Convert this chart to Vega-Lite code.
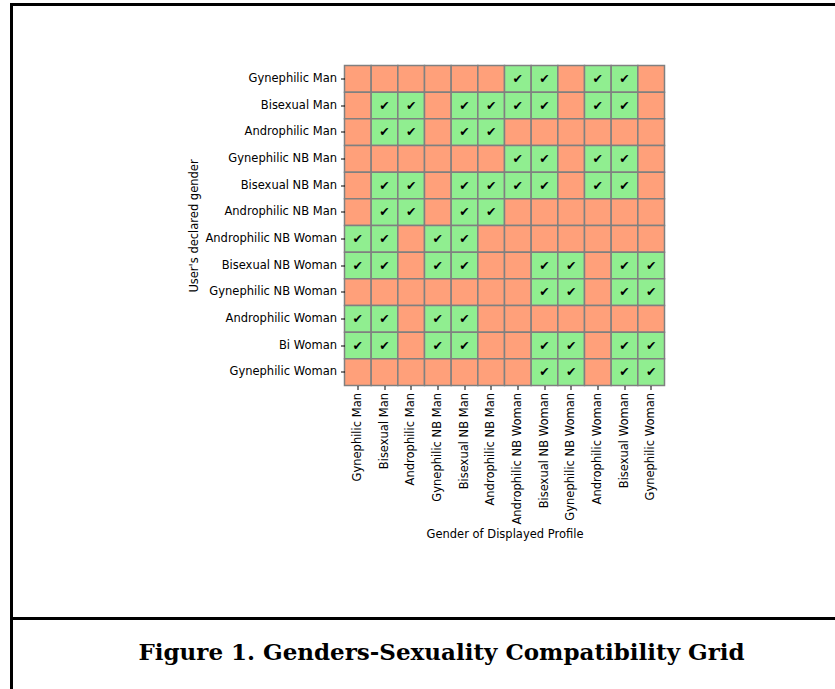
{
  "$schema": "https://vega.github.io/schema/vega-lite/v6.json",
  "padding": {"left": 9.5, "top": 2.5, "right": 0, "bottom": 0},
  "background": "white",
  "spacing": 0,
  "bounds": "flush",
  "config": {"font": "DejaVu Sans", "concat": {"spacing": 0}},
  "datasets": {
    "grid": [
      {"r":"Gynephilic Man","c":"Gynephilic Man","v":0},{"r":"Gynephilic Man","c":"Bisexual Man","v":0},{"r":"Gynephilic Man","c":"Androphilic Man","v":0},{"r":"Gynephilic Man","c":"Gynephilic NB Man","v":0},{"r":"Gynephilic Man","c":"Bisexual NB Man","v":0},{"r":"Gynephilic Man","c":"Androphilic NB Man","v":0},{"r":"Gynephilic Man","c":"Androphilic NB Woman","v":1},{"r":"Gynephilic Man","c":"Bisexual NB Woman","v":1},{"r":"Gynephilic Man","c":"Gynephilic NB Woman","v":0},{"r":"Gynephilic Man","c":"Androphilic Woman","v":1},{"r":"Gynephilic Man","c":"Bisexual Woman","v":1},{"r":"Gynephilic Man","c":"Gynephilic Woman","v":0},
      {"r":"Bisexual Man","c":"Gynephilic Man","v":0},{"r":"Bisexual Man","c":"Bisexual Man","v":1},{"r":"Bisexual Man","c":"Androphilic Man","v":1},{"r":"Bisexual Man","c":"Gynephilic NB Man","v":0},{"r":"Bisexual Man","c":"Bisexual NB Man","v":1},{"r":"Bisexual Man","c":"Androphilic NB Man","v":1},{"r":"Bisexual Man","c":"Androphilic NB Woman","v":1},{"r":"Bisexual Man","c":"Bisexual NB Woman","v":1},{"r":"Bisexual Man","c":"Gynephilic NB Woman","v":0},{"r":"Bisexual Man","c":"Androphilic Woman","v":1},{"r":"Bisexual Man","c":"Bisexual Woman","v":1},{"r":"Bisexual Man","c":"Gynephilic Woman","v":0},
      {"r":"Androphilic Man","c":"Gynephilic Man","v":0},{"r":"Androphilic Man","c":"Bisexual Man","v":1},{"r":"Androphilic Man","c":"Androphilic Man","v":1},{"r":"Androphilic Man","c":"Gynephilic NB Man","v":0},{"r":"Androphilic Man","c":"Bisexual NB Man","v":1},{"r":"Androphilic Man","c":"Androphilic NB Man","v":1},{"r":"Androphilic Man","c":"Androphilic NB Woman","v":0},{"r":"Androphilic Man","c":"Bisexual NB Woman","v":0},{"r":"Androphilic Man","c":"Gynephilic NB Woman","v":0},{"r":"Androphilic Man","c":"Androphilic Woman","v":0},{"r":"Androphilic Man","c":"Bisexual Woman","v":0},{"r":"Androphilic Man","c":"Gynephilic Woman","v":0},
      {"r":"Gynephilic NB Man","c":"Gynephilic Man","v":0},{"r":"Gynephilic NB Man","c":"Bisexual Man","v":0},{"r":"Gynephilic NB Man","c":"Androphilic Man","v":0},{"r":"Gynephilic NB Man","c":"Gynephilic NB Man","v":0},{"r":"Gynephilic NB Man","c":"Bisexual NB Man","v":0},{"r":"Gynephilic NB Man","c":"Androphilic NB Man","v":0},{"r":"Gynephilic NB Man","c":"Androphilic NB Woman","v":1},{"r":"Gynephilic NB Man","c":"Bisexual NB Woman","v":1},{"r":"Gynephilic NB Man","c":"Gynephilic NB Woman","v":0},{"r":"Gynephilic NB Man","c":"Androphilic Woman","v":1},{"r":"Gynephilic NB Man","c":"Bisexual Woman","v":1},{"r":"Gynephilic NB Man","c":"Gynephilic Woman","v":0},
      {"r":"Bisexual NB Man","c":"Gynephilic Man","v":0},{"r":"Bisexual NB Man","c":"Bisexual Man","v":1},{"r":"Bisexual NB Man","c":"Androphilic Man","v":1},{"r":"Bisexual NB Man","c":"Gynephilic NB Man","v":0},{"r":"Bisexual NB Man","c":"Bisexual NB Man","v":1},{"r":"Bisexual NB Man","c":"Androphilic NB Man","v":1},{"r":"Bisexual NB Man","c":"Androphilic NB Woman","v":1},{"r":"Bisexual NB Man","c":"Bisexual NB Woman","v":1},{"r":"Bisexual NB Man","c":"Gynephilic NB Woman","v":0},{"r":"Bisexual NB Man","c":"Androphilic Woman","v":1},{"r":"Bisexual NB Man","c":"Bisexual Woman","v":1},{"r":"Bisexual NB Man","c":"Gynephilic Woman","v":0},
      {"r":"Androphilic NB Man","c":"Gynephilic Man","v":0},{"r":"Androphilic NB Man","c":"Bisexual Man","v":1},{"r":"Androphilic NB Man","c":"Androphilic Man","v":1},{"r":"Androphilic NB Man","c":"Gynephilic NB Man","v":0},{"r":"Androphilic NB Man","c":"Bisexual NB Man","v":1},{"r":"Androphilic NB Man","c":"Androphilic NB Man","v":1},{"r":"Androphilic NB Man","c":"Androphilic NB Woman","v":0},{"r":"Androphilic NB Man","c":"Bisexual NB Woman","v":0},{"r":"Androphilic NB Man","c":"Gynephilic NB Woman","v":0},{"r":"Androphilic NB Man","c":"Androphilic Woman","v":0},{"r":"Androphilic NB Man","c":"Bisexual Woman","v":0},{"r":"Androphilic NB Man","c":"Gynephilic Woman","v":0},
      {"r":"Androphilic NB Woman","c":"Gynephilic Man","v":1},{"r":"Androphilic NB Woman","c":"Bisexual Man","v":1},{"r":"Androphilic NB Woman","c":"Androphilic Man","v":0},{"r":"Androphilic NB Woman","c":"Gynephilic NB Man","v":1},{"r":"Androphilic NB Woman","c":"Bisexual NB Man","v":1},{"r":"Androphilic NB Woman","c":"Androphilic NB Man","v":0},{"r":"Androphilic NB Woman","c":"Androphilic NB Woman","v":0},{"r":"Androphilic NB Woman","c":"Bisexual NB Woman","v":0},{"r":"Androphilic NB Woman","c":"Gynephilic NB Woman","v":0},{"r":"Androphilic NB Woman","c":"Androphilic Woman","v":0},{"r":"Androphilic NB Woman","c":"Bisexual Woman","v":0},{"r":"Androphilic NB Woman","c":"Gynephilic Woman","v":0},
      {"r":"Bisexual NB Woman","c":"Gynephilic Man","v":1},{"r":"Bisexual NB Woman","c":"Bisexual Man","v":1},{"r":"Bisexual NB Woman","c":"Androphilic Man","v":0},{"r":"Bisexual NB Woman","c":"Gynephilic NB Man","v":1},{"r":"Bisexual NB Woman","c":"Bisexual NB Man","v":1},{"r":"Bisexual NB Woman","c":"Androphilic NB Man","v":0},{"r":"Bisexual NB Woman","c":"Androphilic NB Woman","v":0},{"r":"Bisexual NB Woman","c":"Bisexual NB Woman","v":1},{"r":"Bisexual NB Woman","c":"Gynephilic NB Woman","v":1},{"r":"Bisexual NB Woman","c":"Androphilic Woman","v":0},{"r":"Bisexual NB Woman","c":"Bisexual Woman","v":1},{"r":"Bisexual NB Woman","c":"Gynephilic Woman","v":1},
      {"r":"Gynephilic NB Woman","c":"Gynephilic Man","v":0},{"r":"Gynephilic NB Woman","c":"Bisexual Man","v":0},{"r":"Gynephilic NB Woman","c":"Androphilic Man","v":0},{"r":"Gynephilic NB Woman","c":"Gynephilic NB Man","v":0},{"r":"Gynephilic NB Woman","c":"Bisexual NB Man","v":0},{"r":"Gynephilic NB Woman","c":"Androphilic NB Man","v":0},{"r":"Gynephilic NB Woman","c":"Androphilic NB Woman","v":0},{"r":"Gynephilic NB Woman","c":"Bisexual NB Woman","v":1},{"r":"Gynephilic NB Woman","c":"Gynephilic NB Woman","v":1},{"r":"Gynephilic NB Woman","c":"Androphilic Woman","v":0},{"r":"Gynephilic NB Woman","c":"Bisexual Woman","v":1},{"r":"Gynephilic NB Woman","c":"Gynephilic Woman","v":1},
      {"r":"Androphilic Woman","c":"Gynephilic Man","v":1},{"r":"Androphilic Woman","c":"Bisexual Man","v":1},{"r":"Androphilic Woman","c":"Androphilic Man","v":0},{"r":"Androphilic Woman","c":"Gynephilic NB Man","v":1},{"r":"Androphilic Woman","c":"Bisexual NB Man","v":1},{"r":"Androphilic Woman","c":"Androphilic NB Man","v":0},{"r":"Androphilic Woman","c":"Androphilic NB Woman","v":0},{"r":"Androphilic Woman","c":"Bisexual NB Woman","v":0},{"r":"Androphilic Woman","c":"Gynephilic NB Woman","v":0},{"r":"Androphilic Woman","c":"Androphilic Woman","v":0},{"r":"Androphilic Woman","c":"Bisexual Woman","v":0},{"r":"Androphilic Woman","c":"Gynephilic Woman","v":0},
      {"r":"Bi Woman","c":"Gynephilic Man","v":1},{"r":"Bi Woman","c":"Bisexual Man","v":1},{"r":"Bi Woman","c":"Androphilic Man","v":0},{"r":"Bi Woman","c":"Gynephilic NB Man","v":1},{"r":"Bi Woman","c":"Bisexual NB Man","v":1},{"r":"Bi Woman","c":"Androphilic NB Man","v":0},{"r":"Bi Woman","c":"Androphilic NB Woman","v":0},{"r":"Bi Woman","c":"Bisexual NB Woman","v":1},{"r":"Bi Woman","c":"Gynephilic NB Woman","v":1},{"r":"Bi Woman","c":"Androphilic Woman","v":0},{"r":"Bi Woman","c":"Bisexual Woman","v":1},{"r":"Bi Woman","c":"Gynephilic Woman","v":1},
      {"r":"Gynephilic Woman","c":"Gynephilic Man","v":0},{"r":"Gynephilic Woman","c":"Bisexual Man","v":0},{"r":"Gynephilic Woman","c":"Androphilic Man","v":0},{"r":"Gynephilic Woman","c":"Gynephilic NB Man","v":0},{"r":"Gynephilic Woman","c":"Bisexual NB Man","v":0},{"r":"Gynephilic Woman","c":"Androphilic NB Man","v":0},{"r":"Gynephilic Woman","c":"Androphilic NB Woman","v":0},{"r":"Gynephilic Woman","c":"Bisexual NB Woman","v":1},{"r":"Gynephilic Woman","c":"Gynephilic NB Woman","v":1},{"r":"Gynephilic Woman","c":"Androphilic Woman","v":0},{"r":"Gynephilic Woman","c":"Bisexual Woman","v":1},{"r":"Gynephilic Woman","c":"Gynephilic Woman","v":1}
    ]
  },
  "vconcat": [
    {
      "width": 860,
      "height": 614,
      "view": {"stroke": "black", "strokeWidth": 3},
      "data": {"name": "grid"},
      "encoding": {
        "x": {
          "field": "c", "type": "nominal",
          "sort": ["Gynephilic Man","Bisexual Man","Androphilic Man","Gynephilic NB Man","Bisexual NB Man","Androphilic NB Man","Androphilic NB Woman","Bisexual NB Woman","Gynephilic NB Woman","Androphilic Woman","Bisexual Woman","Gynephilic Woman"],
          "scale": {"range": [333, 653], "paddingInner": 0, "paddingOuter": 0},
          "axis": {
            "title": "Gender of Displayed Profile", "orient": "bottom", "offset": -233,
            "labelAngle": -90, "labelFontSize": 11.5, "labelColor": "black", "labelPadding": 3,
            "tickSize": 4, "tickColor": "black", "domain": false, "grid": false,
            "titleFontSize": 11.5, "titleFontWeight": "normal", "titleColor": "black", "titlePadding": 4
          }
        },
        "y": {
          "field": "r", "type": "nominal",
          "sort": ["Gynephilic Man","Bisexual Man","Androphilic Man","Gynephilic NB Man","Bisexual NB Man","Androphilic NB Man","Androphilic NB Woman","Bisexual NB Woman","Gynephilic NB Woman","Androphilic Woman","Bi Woman","Gynephilic Woman"],
          "scale": {"range": [61, 381], "paddingInner": 0, "paddingOuter": 0},
          "axis": {
            "title": "User's declared gender", "orient": "left", "offset": -333,
            "labelFontSize": 11.5, "labelColor": "black", "labelPadding": 4,
            "tickSize": 4, "tickColor": "black", "domain": false, "grid": false,
            "titleFontSize": 11.5, "titleFontWeight": "normal", "titleColor": "black", "titlePadding": 5
          }
        }
      },
      "layer": [
        {
          "mark": {"type": "rect", "stroke": "#808080", "strokeWidth": 1.5},
          "encoding": {
            "color": {"field": "v", "type": "nominal", "scale": {"domain": [0, 1], "range": ["#FFA07A", "#90EE90"]}, "legend": null}
          }
        },
        {
          "transform": [{"filter": "datum.v == 1"}],
          "mark": {"type": "text", "text": "✔", "fontSize": 12.5, "color": "black", "font": "DejaVu Sans"}
        }
      ]
    },
    {
      "width": 860,
      "height": 100,
      "view": {"stroke": "black", "strokeWidth": 3},
      "data": {"values": [{"caption": "Figure 1. Genders-Sexuality Compatibility Grid"}]},
      "mark": {"type": "text", "font": "DejaVu Serif", "fontWeight": "bold", "fontSize": 23, "baseline": "middle", "dy": -16, "color": "black"},
      "encoding": {"text": {"field": "caption"}}
    }
  ]
}
